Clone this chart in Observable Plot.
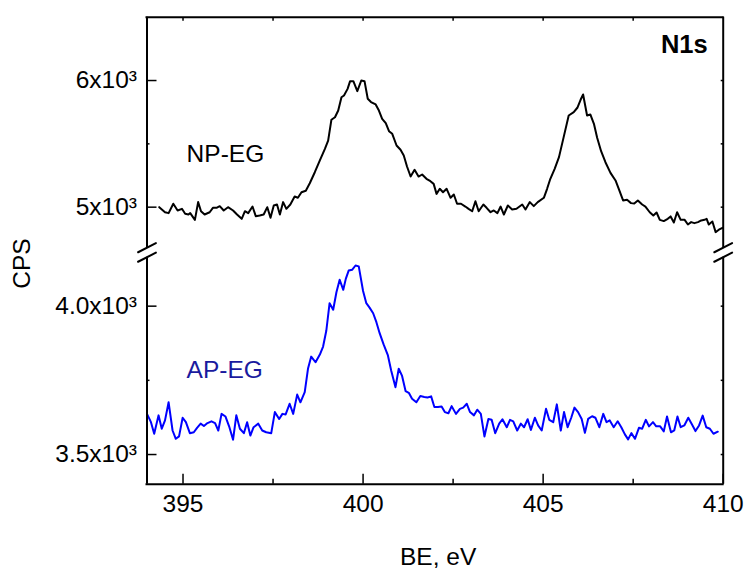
<!DOCTYPE html>
<html>
<head>
<meta charset="utf-8">
<script src="https://cdn.jsdelivr.net/npm/d3@7"></script>
<script src="https://cdn.jsdelivr.net/npm/@observablehq/plot@0.6"></script>
<style>
  html, body { margin: 0; padding: 0; background: #ffffff; }
  #chart { width: 745px; height: 575px; }
</style>
</head>
<body>
<div id="chart"></div>
<script>
// ---------------- data ----------------
const seriesNames = ["NP-EG", "AP-EG"];
const panelTitle = "N1s";
const xLabel = "BE, eV";
const yLabel = "CPS";

const beNP = [394.34,394.50,394.60,394.73,394.85,394.97,395.06,395.15,395.20,395.33,395.42,395.50,395.60,395.74,395.83,395.93,396.02,396.13,396.25,396.39,396.50,396.63,396.72,396.81,396.93,397.02,397.13,397.24,397.34,397.43,397.52,397.61,397.69,397.78,397.87,397.98,398.10,398.19,398.29,398.41,398.52,398.66,398.80,398.94,399.03,399.12,399.22,399.31,399.40,399.47,399.57,399.64,399.73,399.84,399.95,400.04,400.13,400.22,400.35,400.44,400.53,400.63,400.72,400.81,400.93,401.04,401.13,401.22,401.32,401.43,401.54,401.64,401.76,401.87,401.96,402.04,402.13,402.22,402.32,402.43,402.52,402.61,402.72,402.84,402.93,403.03,403.12,403.21,403.34,403.43,403.54,403.63,403.73,403.82,403.91,404.02,404.14,404.26,404.42,404.51,404.63,404.74,404.85,405.02,405.11,405.20,405.32,405.44,405.57,405.71,405.85,405.95,406.04,406.11,406.22,406.31,406.41,406.50,406.61,406.73,406.87,407.01,407.10,407.22,407.33,407.44,407.53,407.63,407.75,407.84,407.96,408.06,408.15,408.24,408.35,408.46,408.54,408.63,408.72,408.82,408.93,409.02,409.11,409.20,409.30,409.39,409.48,409.54,409.60,409.70,409.79,409.88,409.98];
const cpsNP = [5000,4960,4953,5027,4974,4987,4948,4942,4953,4900,5040,4968,4942,4960,4995,4995,5008,4974,5000,4974,4942,4908,4968,4953,5005,4929,4934,4942,5000,4916,5013,5021,4942,5040,4987,5021,5084,5074,5118,5130,5189,5276,5369,5461,5526,5690,5710,5763,5868,5882,5934,5995,5995,5916,6000,5995,5856,5830,5811,5763,5698,5663,5600,5579,5487,5453,5408,5321,5242,5295,5242,5258,5224,5205,5184,5105,5145,5118,5145,5074,5100,5027,5027,5005,4987,4968,5047,4968,5021,4995,4960,4974,4953,5005,4942,5013,4982,4987,5021,4982,5040,5008,5040,5074,5145,5224,5303,5395,5553,5724,5750,5785,5848,5890,5724,5732,5658,5548,5442,5355,5271,5211,5145,5053,5058,5032,5029,5053,5021,5005,4960,4934,4958,4900,4890,4908,4927,4879,4960,4900,4900,4863,4882,4874,4882,4895,4900,4908,4863,4887,4803,4822,4837];

const beAP = [394.00,394.11,394.20,394.32,394.41,394.50,394.60,394.71,394.80,394.89,394.99,395.08,395.19,395.30,395.39,395.49,395.58,395.68,395.79,395.89,395.98,396.07,396.18,396.28,396.39,396.48,396.58,396.69,396.78,396.87,396.96,397.09,397.20,397.31,397.45,397.55,397.67,397.76,397.85,397.96,398.06,398.17,398.26,398.38,398.47,398.56,398.68,398.80,398.89,398.98,399.07,399.17,399.26,399.35,399.45,399.52,399.60,399.70,399.79,399.88,400.00,400.09,400.18,400.28,400.37,400.46,400.57,400.69,400.78,400.90,400.99,401.08,401.18,401.27,401.36,401.48,401.59,401.70,401.79,401.89,401.98,402.08,402.18,402.27,402.37,402.46,402.58,402.69,402.78,402.88,402.97,403.08,403.17,403.27,403.37,403.48,403.57,403.67,403.78,403.87,403.99,404.08,404.17,404.28,404.38,404.47,404.57,404.66,404.77,404.86,404.96,405.08,405.17,405.28,405.38,405.49,405.58,405.68,405.78,405.87,405.97,406.07,406.16,406.25,406.36,406.45,406.56,406.67,406.76,406.85,406.96,407.07,407.17,407.27,407.36,407.45,407.55,407.66,407.75,407.85,407.94,408.05,408.14,408.25,408.35,408.44,408.55,408.64,408.73,408.82,408.92,409.03,409.13,409.23,409.33,409.43,409.53,409.63,409.73,409.85];
const cpsAP = [3637,3609,3570,3632,3587,3615,3676,3581,3553,3561,3624,3609,3572,3575,3590,3604,3596,3606,3612,3606,3581,3637,3628,3595,3550,3632,3587,3572,3609,3564,3592,3604,3581,3575,3572,3643,3620,3637,3635,3671,3637,3702,3676,3710,3789,3830,3811,3837,3864,3918,4010,3988,4047,4089,4055,4092,4120,4123,4137,4134,4051,4010,3995,3976,3946,3909,3871,3834,3783,3727,3789,3766,3714,3708,3688,3676,3697,3694,3692,3696,3660,3660,3662,3643,3639,3663,3637,3654,3658,3671,3643,3632,3651,3637,3561,3620,3617,3572,3604,3619,3592,3617,3612,3581,3604,3592,3619,3583,3624,3598,3581,3654,3617,3609,3669,3581,3643,3592,3624,3658,3643,3620,3573,3620,3629,3624,3592,3637,3609,3615,3592,3612,3592,3568,3551,3572,3553,3590,3587,3617,3595,3609,3595,3595,3578,3628,3575,3581,3628,3592,3598,3624,3602,3579,3598,3631,3592,3587,3570,3577];

const xDomain = [394, 410];
const xTicks = [395, 400, 405, 410];
const xMinorTicks = [397.5, 402.5, 407.5];
const xTopTicks = [395, 397.5, 400, 402.5, 405, 407.5];

const yDomain = [3400, 6500];
const yBreak = [4165, 4680];          // lower panel top, upper panel bottom
const yTicks = [3500, 4000, 5000, 6000];
const yTickLabels = ["3.5x10\u00B3", "4.0x10\u00B3", "5x10\u00B3", "6x10\u00B3"];
const yMinorTicks = [3750, 5500];

// ---------------- build tables ----------------
const np = beNP.map((be, i) => ({be, cps: cpsNP[i], series: seriesNames[0]}));
const ap = beAP.map((be, i) => ({be, cps: cpsAP[i], series: seriesNames[1]}));
const breakCorners = xDomain.flatMap(x => yBreak.map(y => ({x, y})));

// broken axis: lower panel, gap, upper panel (relative heights)
const lowerH = 227, gapH = 9.5, upperH = 230.5;
const breakTransform = v =>
  v <= yBreak[0]
    ? (v - yDomain[0]) / (yBreak[0] - yDomain[0]) * lowerH
    : v >= yBreak[1]
      ? lowerH + gapH + (v - yBreak[1]) / (yDomain[1] - yBreak[1]) * upperH
      : lowerH + gapH / 2;

const font = "'Liberation Sans', Arial, Helvetica, sans-serif";
const slash = {draw(context, l) { context.moveTo(0, 0); context.lineTo(0, -l); }};
const frameStyle = {stroke: "black", strokeWidth: 2};

const chart = Plot.plot({
  width: 745,
  height: 575,
  marginLeft: 146.5,
  marginRight: 22.3,
  marginTop: 16.7,
  marginBottom: 91.3,
  style: {fontFamily: font, fontSize: "24.5px", background: "white", color: "black"},
  x: {domain: xDomain, axis: null},
  y: {
    transform: breakTransform,
    domain: [0, lowerH + gapH + upperH],
    axis: null
  },
  marks: [
    // data
    Plot.line(np, {x: "be", y: "cps", stroke: "black", strokeWidth: 2}),
    Plot.line(ap, {x: "be", y: "cps", stroke: "#0000ff", strokeWidth: 2}),

    // frame with broken vertical sides
    Plot.ruleY(yDomain, {x1: xDomain[0], x2: xDomain[1], ...frameStyle, strokeLinecap: "square"}),
    Plot.ruleX(xDomain, {y1: yDomain[0], y2: yBreak[0], ...frameStyle}),
    Plot.ruleX(xDomain, {y1: yBreak[1], y2: yDomain[1], ...frameStyle}),
    Plot.vector(breakCorners, {x: "x", y: "y", length: 20, rotate: 63, anchor: "middle", shape: slash, stroke: "black", strokeWidth: 2}),

    // bottom axis (ticks inward)
    Plot.axisX(xTicks, {anchor: "bottom", tickSize: -10, fill: "none", label: null, strokeWidth: 1.5}),
    Plot.axisX(xMinorTicks, {anchor: "bottom", tickSize: -5, fill: "none", label: null, strokeWidth: 1.5}),
    Plot.axisX(xTicks, {anchor: "bottom", tickSize: 0, tickPadding: 10.5, label: null, fontSize: 24.5, tickFormat: d => String(d)}),
    // top axis
    Plot.axisX(xTopTicks, {anchor: "top", tickSize: -3, fill: "none", label: null, strokeWidth: 1.5}),

    // left axis
    Plot.axisY(yTicks, {anchor: "left", tickSize: -10, fill: "none", label: null, strokeWidth: 1.5}),
    Plot.axisY(yMinorTicks, {anchor: "left", tickSize: -3, fill: "none", label: null, strokeWidth: 1.5}),
    Plot.axisY(yTicks, {anchor: "left", tickSize: 0, tickPadding: 10, label: null, fontSize: 24.5,
      tickFormat: d => yTickLabels[yTicks.indexOf(d)]}),
    // right axis
    Plot.axisY([...yTicks, ...yMinorTicks], {anchor: "right", tickSize: -3, fill: "none", label: null, strokeWidth: 1.5}),

    // axis titles
    Plot.text([yLabel], {frameAnchor: "left", dx: -125, dy: 38, rotate: -90, fontSize: 24.5, fill: "black"}),
    Plot.text([xLabel], {frameAnchor: "bottom", dx: 3, dy: 80.5, lineAnchor: "bottom", fontSize: 24.5, fill: "black"}),

    // annotations
    Plot.text([panelTitle], {x: 409.57, y: 6221, textAnchor: "end", lineAnchor: "bottom", fontSize: 25.5, fontWeight: "bold", fill: "black"}),
    Plot.text([seriesNames[0]], {x: 395.1, y: 5353, textAnchor: "start", lineAnchor: "bottom", fontSize: 24.5, fill: "black"}),
    Plot.text([seriesNames[1]], {x: 395.1, y: 3757, textAnchor: "start", lineAnchor: "bottom", fontSize: 24.5, fill: "#1a1a9e"})
  ]
});

document.getElementById("chart").appendChild(chart);
</script>
</body>
</html>
